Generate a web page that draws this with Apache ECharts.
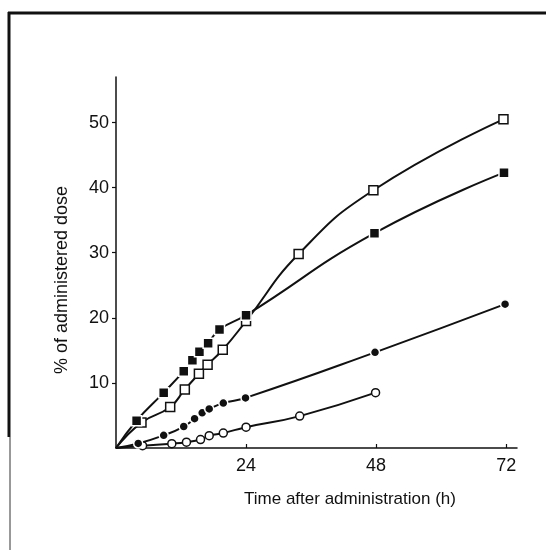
<!DOCTYPE html>
<html>
<head>
<meta charset="utf-8">
<script src="https://cdn.jsdelivr.net/npm/echarts@6/dist/echarts.min.js"></script>
<style>
  html, body { margin: 0; padding: 0; background: #fff; }
  #chart { width: 546px; height: 550px; }
</style>
</head>
<body>
<div id="chart"></div>
<script>
// time (h) and % of administered dose
var filledSquareT = [0, 3.8, 8.8, 12.5, 14.1, 15.4, 17.0, 19.1, 24.0, 47.7, 71.6];
var filledSquareV = [0, 4.2, 8.5, 11.8, 13.5, 14.8, 16.1, 18.2, 20.4, 33.0, 42.3];
var openSquareT = [0, 4.7, 10.0, 12.7, 15.3, 16.9, 19.7, 24.0, 33.7, 47.5, 71.5];
var openSquareV = [0, 3.9, 6.3, 9.0, 11.4, 12.8, 15.1, 19.5, 29.8, 39.6, 50.5];
var filledCircleT = [0, 4.1, 8.8, 12.5, 14.5, 15.9, 17.2, 19.8, 23.9, 47.8, 71.8];
var filledCircleV = [0, 0.7, 1.95, 3.3, 4.5, 5.4, 6.0, 6.9, 7.7, 14.7, 22.1];
var openCircleT = [0, 4.9, 10.3, 13.0, 15.6, 17.2, 19.8, 24.0, 33.9, 47.9];
var openCircleV = [0, 0.35, 0.67, 0.9, 1.3, 1.9, 2.3, 3.2, 4.9, 8.5];

var xTicks = [24, 48, 72];
var yTicks = [10, 20, 30, 40, 50];

var font = 'Liberation Sans, Arial, sans-serif';

// pair up t/v, first point (origin) has no marker
function pts(t, v) {
    var out = [];
    for (var i = 0; i < t.length; i++) {
        if (i === 0) {
            out.push({ value: [t[i], v[i]], symbol: 'none' });
        } else {
            out.push([t[i], v[i]]);
        }
    }
    return out;
}

function lineSeries(name, t, v, symbol, filled, size) {
    return {
        name: name,
        type: 'line',
        smooth: 0.5,
        data: pts(t, v),
        symbol: symbol,
        symbolSize: size,
        showAllSymbol: true,
        lineStyle: { color: '#111', width: 2 },
        itemStyle: filled
            ? { color: '#111', borderColor: '#fff', borderWidth: 1.5 }
            : { color: '#fff', borderColor: '#111', borderWidth: 1.5 },
        emphasis: { disabled: true },
        z: filled ? 3 : 2
    };
}

var chart = echarts.init(document.getElementById('chart'));
var option = {
    animation: false,
    grid: { left: 116, right: 29, top: 77, bottom: 102 },
    xAxis: {
        type: 'value',
        min: 0,
        max: 74,
        axisLine: { lineStyle: { color: '#111', width: 1.5 } },
        axisTick: { inside: true, length: 4, customValues: xTicks, lineStyle: { color: '#111', width: 1.2 } },
        axisLabel: { customValues: xTicks, margin: 9, color: '#111', fontSize: 18, fontFamily: font },
        splitLine: { show: false }
    },
    yAxis: {
        type: 'value',
        min: 0,
        max: 57,
        axisLine: { show: true, lineStyle: { color: '#111', width: 1.5 } },
        axisTick: { show: true, length: 4, customValues: yTicks, lineStyle: { color: '#111', width: 1.2 } },
        axisLabel: { customValues: yTicks, margin: 7, color: '#111', fontSize: 18, fontFamily: font },
        splitLine: { show: false }
    },
    series: [
        lineSeries('open square', openSquareT, openSquareV, 'rect', false, 9),
        lineSeries('filled square', filledSquareT, filledSquareV, 'rect', true, 10),
        lineSeries('filled circle', filledCircleT, filledCircleV, 'circle', true, 9),
        lineSeries('open circle', openCircleT, openCircleV, 'circle', false, 8)
    ],
    graphic: [
        { type: 'line', shape: { x1: 8, y1: 13, x2: 546, y2: 13 }, style: { stroke: '#111', lineWidth: 3 } },
        { type: 'line', shape: { x1: 9, y1: 12, x2: 9, y2: 437 }, style: { stroke: '#111', lineWidth: 3 } },
        { type: 'line', shape: { x1: 10, y1: 437, x2: 10, y2: 550 }, style: { stroke: '#333', lineWidth: 1 } },
        {
            type: 'text', x: 350, y: 499,
            style: { text: 'Time after administration (h)', fill: '#111', font: '17px ' + font, textAlign: 'center', textVerticalAlign: 'middle' }
        },
        {
            type: 'text', x: 62, y: 280, rotation: Math.PI / 2,
            style: { text: '% of administered dose', fill: '#111', font: '18px ' + font, textAlign: 'center', textVerticalAlign: 'middle' }
        }
    ]
};
chart.setOption(option);
</script>
</body>
</html>
